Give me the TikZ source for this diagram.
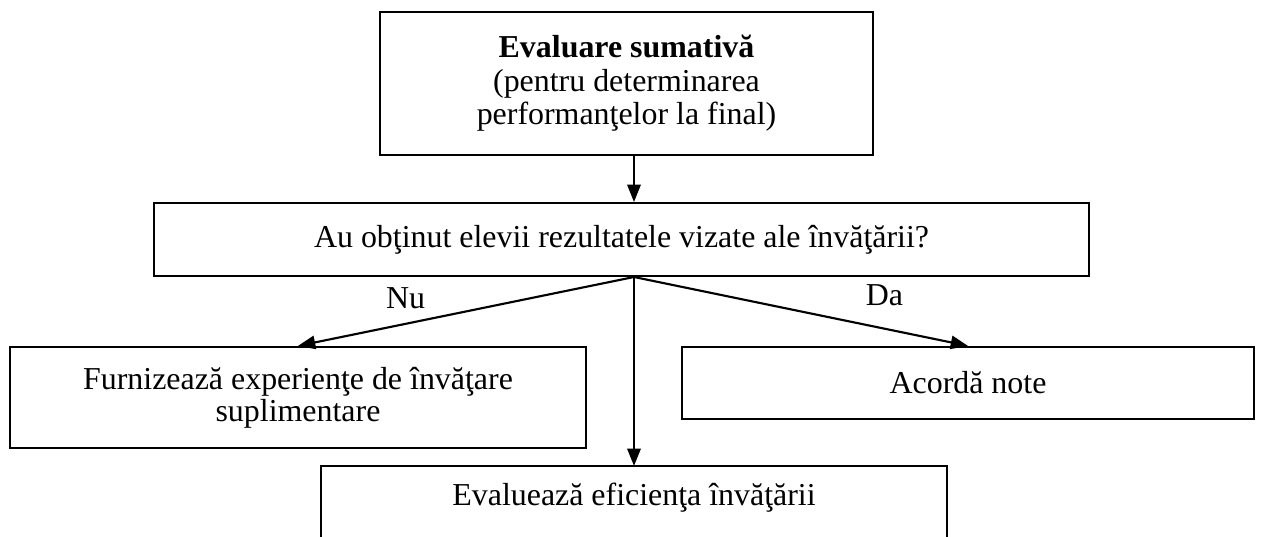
\documentclass[tikz,border=0pt]{standalone}
\usepackage{fontspec}
\setmainfont{Liberation Serif}
\usetikzlibrary{arrows.meta,positioning}

\begin{document}
\begin{tikzpicture}[x=0.376pt,y=-0.376pt,
  box/.style={draw,line width=0.8pt,align=center,inner sep=0pt,font=\fontsize{12}{12.6}\selectfont},
  flow/.style={line width=0.8pt,-{Triangle[length=6.5pt,width=5pt]}},
  lbl/.style={font=\fontsize{12}{14}\selectfont}]
\useasboundingbox (0,0) rectangle (1264,537);
\coordinate (bottom) at (0,537);

\node[box,minimum width=185.4pt,minimum height=53.8pt] (sumativa) at (626.5,83.5) {\textbf{Evaluare sumativă}\\(pentru determinarea\\performanţelor la final)};

\node[box,minimum width=351.6pt,minimum height=27.4pt] (intrebare) at (621.5,239.5) {Au obţinut elevii rezultatele vizate ale învăţării?};

\node[box,minimum width=216.6pt,minimum height=38pt,font=\fontsize{12}{10.6}\selectfont] (suplimentare) at (298,397.5) {Furnizează experienţe de învăţare\\suplimentare};

\node[box,minimum width=215.1pt,minimum height=27.1pt] (note) at (968,383) {Acordă note};

\node[box,draw=none,minimum width=234.6pt,minimum height=23.3pt] (eficienta) at (634,498) {Evaluează eficienţa învăţării};
\draw[line width=0.8pt] (eficienta.north west |- bottom) -- (eficienta.north west) -- (eficienta.north east) -- (eficienta.north east |- bottom);

\coordinate (fork) at (intrebare.south -| eficienta.north);

\draw[flow] (sumativa.south -| fork) -- (intrebare.north -| fork);
\draw[flow] (fork) -- node[lbl,pos=0.68,above=2pt]{Nu} (suplimentare.north);
\draw[flow] (fork) -- node[lbl,pos=0.75,above=5pt]{Da} (note.north);
\draw[flow] (fork) -- (eficienta.north);

\end{tikzpicture}
\end{document}
